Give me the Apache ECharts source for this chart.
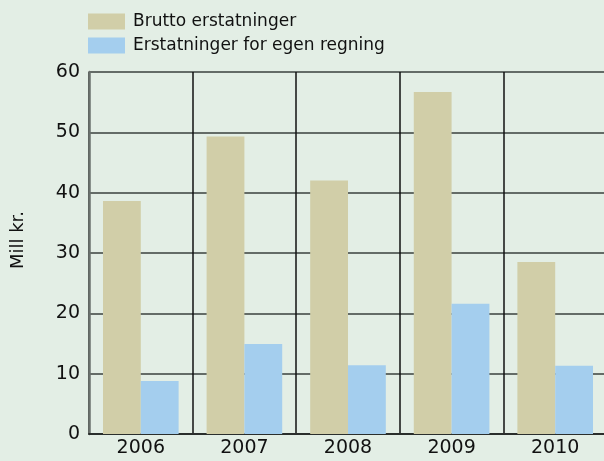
<!DOCTYPE html>
<html>
<head>
<meta charset="utf-8">
<script src="https://cdn.jsdelivr.net/npm/echarts@6/dist/echarts.min.js"></script>
<style>
  html, body { margin: 0; padding: 0; background: #e3eee5; }
  #chart { width: 604px; height: 461px; }
</style>
</head>
<body>
<div id="chart"></div>
<script>
var years = ["2006", "2007", "2008", "2009", "2010"];
var brutto = [38.6, 49.3, 42.0, 56.7, 28.5];
var egen = [8.8, 14.9, 11.4, 21.6, 11.3];
var seriesNames = ["Brutto erstatninger", "Erstatninger for egen regning"];

var font = "'DejaVu Sans', sans-serif";

var myChart = echarts.init(document.getElementById("chart"));
var option = {
  backgroundColor: "#e3eee5",
  color: ["#d1cea8", "#a4ceee"],
  animation: false,
  textStyle: { fontFamily: font },
  legend: {
    orient: "vertical",
    left: 88,
    top: 13,
    padding: 0,
    itemWidth: 37,
    itemHeight: 16,
    itemGap: 7,
    icon: "rect",
    textStyle: { fontSize: 17, lineHeight: 16, color: "#111", fontFamily: font, padding: [0, 0, 0, 3] },
    data: seriesNames
  },
  grid: { left: 89, width: 518, top: 72, height: 362, outerBoundsMode: "none" },
  graphic: [
    {
      type: "text",
      x: 18,
      y: 240,
      rotation: Math.PI / 2,
      style: {
        text: "Mill kr.", fontSize: 18, fontFamily: font, fill: "#111",
        align: "center", verticalAlign: "middle"
      }
    }
  ],
  xAxis: {
    type: "category",
    data: years,
    axisLine: { lineStyle: { color: "#2a2e2c", width: 2 } },
    axisTick: { show: false },
    axisLabel: { fontSize: 19, color: "#111", margin: 5, fontFamily: font },
    splitLine: { show: true, interval: 0, lineStyle: { color: "#111", width: 1.5 } }
  },
  yAxis: {
    type: "value",
    min: 0,
    max: 60,
    interval: 10,
    axisLine: { show: true, lineStyle: { color: "#6a706c", width: 2.5 } },
    axisTick: { show: false },
    axisLabel: { fontSize: 19, color: "#111", margin: 9, fontFamily: font },
    splitLine: { lineStyle: { color: "#3a403d", width: 1.5 } }
  },
  series: [
    {
      name: seriesNames[0],
      type: "bar",
      data: brutto,
      barGap: "0%",
      barCategoryGap: "27%",
      z: 3
    },
    {
      name: seriesNames[1],
      type: "bar",
      data: egen,
      z: 3
    }
  ]
};
myChart.setOption(option);
</script>
</body>
</html>
